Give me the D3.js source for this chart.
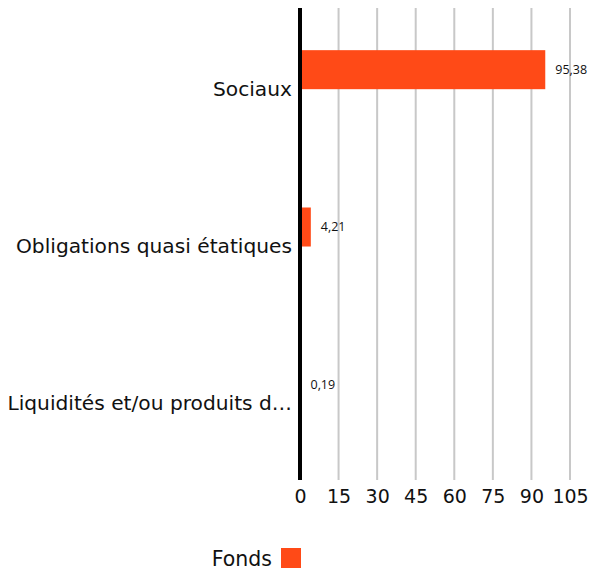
<!DOCTYPE html>
<html>
<head>
<meta charset="utf-8">
<script src="https://cdn.jsdelivr.net/npm/d3@7"></script>
<style>
  body { margin: 0; background: #fff; }
  svg text { font-family: "DejaVu Sans", sans-serif; fill: #111; }
  svg text.small { font-family: "Open Sans", sans-serif; }
</style>
</head>
<body>
<svg id="chart" width="595" height="573"></svg>
<script>
var categories = ["Sociaux", "Obligations quasi étatiques", "Liquidités et/ou produits d…"];
var fonds = [95.38, 4.21, 0.19];
var valueLabels = ["95,38", "4,21", "0,19"];
var ticks = [0, 15, 30, 45, 60, 75, 90, 105];
var seriesName = "Fonds";

var svg = d3.select("#chart");
var margin = { top: 8, left: 300, right: 25, bottom: 93 };
var W = 595, H = 573;
var orange = "#ff4a17";

var x = d3.scaleLinear().domain([0, 105]).range([margin.left, W - margin.right]);
var y = d3.scaleBand().domain(categories).range([margin.top, H - margin.bottom]).padding(0);

// grid lines
svg.append("g").selectAll("line").data(ticks.slice(1)).enter().append("line")
  .attr("x1", function(d) { return x(d) }).attr("x2", function(d) { return x(d) })
  .attr("y1", margin.top).attr("y2", H - margin.bottom)
  .attr("stroke", "#c8c8c8").attr("stroke-width", 2);

// x axis labels
var xAxis = d3.axisBottom(x).tickValues(ticks).tickSize(0).tickPadding(10);
var xg = svg.append("g").attr("transform", "translate(0," + (H - margin.bottom) + ")").call(xAxis);
xg.select(".domain").remove();
xg.selectAll("text").style("font-size", "19px").style("font-family", "DejaVu Sans").attr("fill", "#111");

// bars
var data = categories.map(function(c, i) { return { cat: c, v: fonds[i], lab: valueLabels[i] } });
var bw = y.bandwidth();
svg.append("g").selectAll("rect").data(data).enter().append("rect")
  .attr("x", x(0))
  .attr("y", function(d) { return y(d.cat) + bw * 0.268 })
  .attr("width", function(d) { return x(d.v) - x(0) })
  .attr("height", bw * 0.248)
  .attr("fill", orange);

svg.append("g").selectAll("text").data(data).enter().append("text")
  .attr("class", "small")
  .attr("x", function(d) { return x(d.v) + 10 })
  .attr("y", function(d) { return y(d.cat) + bw * 0.268 + bw * 0.124 })
  .attr("dy", "0.35em")
  .style("font-size", "12.5px")
  .text(function(d) { return d.lab });

// category labels
var yAxis = d3.axisLeft(y).tickSize(0).tickPadding(8);
var yg = svg.append("g").attr("transform", "translate(" + margin.left + ",0)").call(yAxis);
yg.select(".domain").remove();
yg.selectAll("text").style("font-size", "20.2px").style("font-family", "DejaVu Sans")
  .attr("dy", "0.45em").attr("fill", "#111");

// zero axis line
svg.append("line")
  .attr("x1", x(0)).attr("x2", x(0))
  .attr("y1", margin.top).attr("y2", H - margin.bottom)
  .attr("stroke", "#000").attr("stroke-width", 4);

// legend
var lg = svg.append("g").attr("transform", "translate(291,558)");
lg.append("rect").attr("x", -10).attr("y", -10).attr("width", 20).attr("height", 20).attr("fill", orange);
lg.append("text").attr("x", -19).attr("y", 0).attr("dy", "0.4em")
  .attr("text-anchor", "end").style("font-size", "20.5px").text(seriesName);
</script>
</body>
</html>
